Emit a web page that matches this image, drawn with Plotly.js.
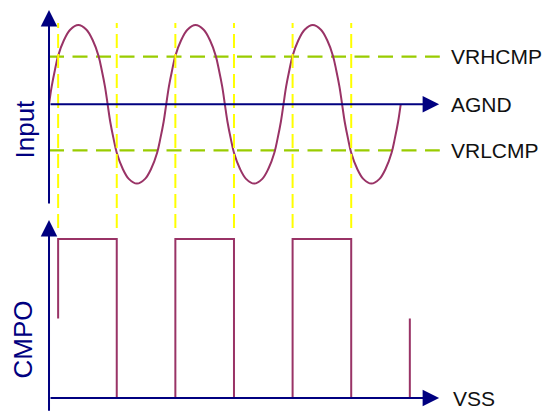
<!DOCTYPE html>
<html><head><meta charset="utf-8">
<script src="https://cdn.plot.ly/plotly-3.0.1.min.js"></script>
<style>html,body{margin:0;padding:0;background:#fff;}#chart{width:544px;height:412px;}</style>
</head><body><div id="chart"></div>
<script>
// Input waveform (phase in degrees, level relative to AGND, peak = 1)
const phaseDeg = [
  0,8,18,28,46,65,90,115,134,152,162,172,180,188,198,208,226,245,270,295,314,332,342,352,360,
  368,378,388,406,425,450,475,494,512,522,532,540,548,558,568,586,605,630,655,674,692,702,712,720,
  728,738,748,766,785,810,835,854,872,882,892,900,908,918,928,946,965,990,1015,1034,1052,1062,1072,1080
];
const inputLevel = [
  0,0.22,0.43,0.61,0.81,0.94,1,0.94,0.81,0.61,0.43,0.22,0,-0.22,-0.43,-0.61,-0.81,-0.94,-1,-0.94,-0.81,-0.61,-0.43,-0.22,0,
  0.22,0.43,0.61,0.81,0.94,1,0.94,0.81,0.61,0.43,0.22,0,-0.22,-0.43,-0.61,-0.81,-0.94,-1,-0.94,-0.81,-0.61,-0.43,-0.22,0,
  0.22,0.43,0.61,0.81,0.94,1,0.94,0.81,0.61,0.43,0.22,0,-0.22,-0.43,-0.61,-0.81,-0.94,-1,-0.94,-0.81,-0.61,-0.43,-0.22,0
];
// Comparator thresholds
const thresholdNames = ['VRHCMP', 'AGND', 'VRLCMP'];
const thresholdValues = [0.6, 0, -0.58];
const thresholdSpan = [0, 1200];
// Switching instants (degrees)
const switchPhase = [28, 208, 388, 568, 748, 928];
// CMPO output (0 = VSS, 1 = high)
const cmpoPhase = [28, 28, 208, 208, 388, 388, 568, 568, 748, 748, 928, 928, 1108, 1108];
const cmpoLevel = [0.5, 1, 1, 0, 0, 1, 1, 0, 0, 1, 1, 0, 0, 0.5];
const axisEnd = 1198;
const labelX = 1229;
const vssLabel = 'VSS';

const NAVY = '#000080', WAVE = '#993366', GREEN = '#99cc00', YELLOW = '#ffff00';
const FONT = 'Liberation Sans, Arial, sans-serif';

const traces = [];
[thresholdValues[0], thresholdValues[2]].forEach(v => {
  traces.push({x: thresholdSpan, y: [v, v], xaxis: 'x', yaxis: 'y2', mode: 'lines',
    line: {color: GREEN, width: 2.2, dash: '15px,8.5px'}, hoverinfo: 'skip'});
});
traces.push({x: phaseDeg, y: inputLevel, xaxis: 'x', yaxis: 'y2', mode: 'lines',
  line: {color: WAVE, width: 2, shape: 'spline', smoothing: 1}, hoverinfo: 'skip'});
traces.push({x: cmpoPhase, y: cmpoLevel, xaxis: 'x', yaxis: 'y', mode: 'lines',
  line: {color: WAVE, width: 2}, hoverinfo: 'skip'});

const shapes = switchPhase.map(p => ({type: 'line', xref: 'x', yref: 'paper',
  x0: p, x1: p, y0: 1 - 228/412, y1: 1 - 23/412,
  line: {color: YELLOW, width: 2, dash: '14px,6px'}}));

function arrow(x, y, ax, ay, yref) {
  return {x: x, y: y, ax: ax, ay: ay, xref: 'x', yref: yref, axref: 'x', ayref: yref,
    text: '', showarrow: true, arrowhead: 2, arrowsize: 1.65, arrowwidth: 2, arrowcolor: NAVY, standoff: 0};
}
const annotations = [
  arrow(0, 1.189, 0, -1.27, 'y2'),
  arrow(axisEnd, 0, 0, 0, 'y2'),
  arrow(0, 1.119, 0, -0.09, 'y'),
  arrow(axisEnd, 0, 0, 0, 'y')
];
thresholdNames.forEach((n, i) => annotations.push({x: labelX, y: thresholdValues[i], xref: 'x', yref: 'y2',
  text: n, showarrow: false, xanchor: 'left', yanchor: 'middle', font: {family: FONT, size: 21, color: '#111'}}));
annotations.push({x: labelX + 5, y: 0, xref: 'x', yref: 'y', text: vssLabel, showarrow: false,
  xanchor: 'left', yanchor: 'middle', font: {family: FONT, size: 21, color: '#111'}});
annotations.push({x: 24.5/544, y: 1 - 129/412, xref: 'paper', yref: 'paper', text: 'Input', textangle: -90,
  showarrow: false, xanchor: 'center', yanchor: 'middle', font: {family: FONT, size: 26, color: NAVY}});
annotations.push({x: 22.5/544, y: 1 - 340/412, xref: 'paper', yref: 'paper', text: 'CMPO', textangle: -90,
  showarrow: false, xanchor: 'center', yanchor: 'middle', font: {family: FONT, size: 26, color: NAVY}});

const layout = {
  width: 544, height: 412, margin: {l: 0, r: 0, t: 0, b: 0},
  paper_bgcolor: '#fff', plot_bgcolor: '#fff', showlegend: false,
  xaxis: {range: [-150.5, 1520], visible: false, fixedrange: true},
  yaxis: {domain: [0, 1 - 212/412], range: [-0.088, 1.170], visible: false, fixedrange: true},
  yaxis2: {domain: [1 - 212/412, 1], range: [-1.358, 1.315], visible: false, fixedrange: true},
  shapes: shapes, annotations: annotations
};
Plotly.newPlot('chart', traces, layout, {staticPlot: true, displayModeBar: false});
</script>
</body></html>
